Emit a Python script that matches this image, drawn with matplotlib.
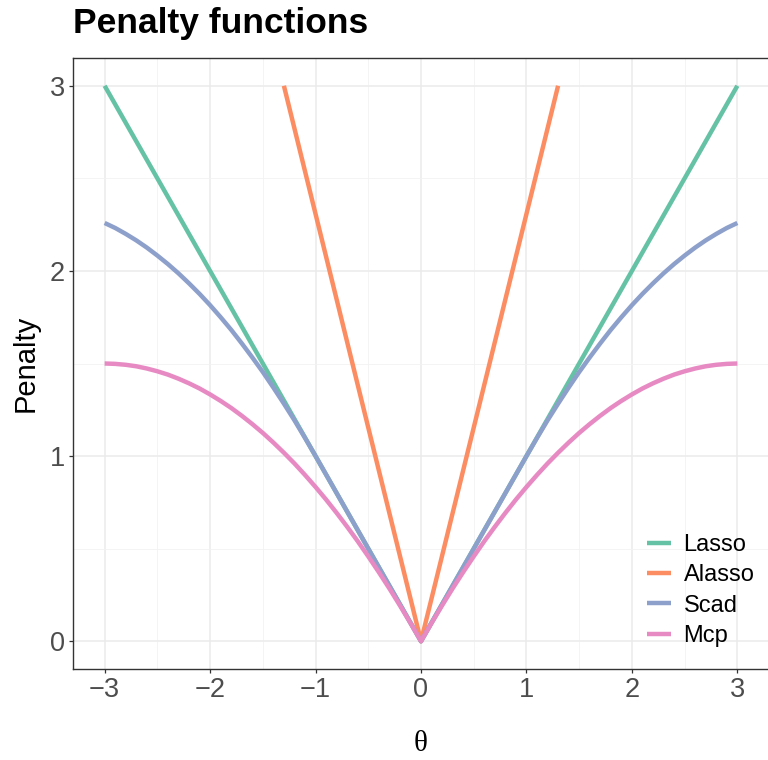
import matplotlib
matplotlib.use("Agg")
import matplotlib.pyplot as plt
from matplotlib.ticker import MultipleLocator

plt.rcParams['font.family'] = ['Liberation Sans', 'DejaVu Sans']

# penalty values, theta grid in steps of 0.1
theta = [-3.0, -2.9, -2.8, -2.7, -2.6, -2.5, -2.4, -2.3, -2.2, -2.1,
         -2.0, -1.9, -1.8, -1.7, -1.6, -1.5, -1.4, -1.3, -1.2, -1.1,
         -1.0, -0.9, -0.8, -0.7, -0.6, -0.5, -0.4, -0.3, -0.2, -0.1,
         0.0,
         0.1, 0.2, 0.3, 0.4, 0.5, 0.6, 0.7, 0.8, 0.9, 1.0,
         1.1, 1.2, 1.3, 1.4, 1.5, 1.6, 1.7, 1.8, 1.9, 2.0,
         2.1, 2.2, 2.3, 2.4, 2.5, 2.6, 2.7, 2.8, 2.9, 3.0]
lasso = [3.0, 2.9, 2.8, 2.7, 2.6, 2.5, 2.4, 2.3, 2.2, 2.1,
         2.0, 1.9, 1.8, 1.7, 1.6, 1.5, 1.4, 1.3, 1.2, 1.1,
         1.0, 0.9, 0.8, 0.7, 0.6, 0.5, 0.4, 0.3, 0.2, 0.1,
         0.0,
         0.1, 0.2, 0.3, 0.4, 0.5, 0.6, 0.7, 0.8, 0.9, 1.0,
         1.1, 1.2, 1.3, 1.4, 1.5, 1.6, 1.7, 1.8, 1.9, 2.0,
         2.1, 2.2, 2.3, 2.4, 2.5, 2.6, 2.7, 2.8, 2.9, 3.0]
scad = [2.259, 2.232, 2.200, 2.165, 2.126, 2.083, 2.037, 1.987, 1.933, 1.876,
        1.815, 1.750, 1.682, 1.609, 1.533, 1.454, 1.370, 1.283, 1.193, 1.098,
        1.0, 0.9, 0.8, 0.7, 0.6, 0.5, 0.4, 0.3, 0.2, 0.1,
        0.0,
        0.1, 0.2, 0.3, 0.4, 0.5, 0.6, 0.7, 0.8, 0.9, 1.0,
        1.098, 1.193, 1.283, 1.370, 1.454, 1.533, 1.609, 1.682, 1.750, 1.815,
        1.876, 1.933, 1.987, 2.037, 2.083, 2.126, 2.165, 2.200, 2.232, 2.259]
mcp = [1.500, 1.498, 1.493, 1.485, 1.473, 1.458, 1.440, 1.418, 1.393, 1.365,
       1.333, 1.298, 1.260, 1.218, 1.173, 1.125, 1.073, 1.018, 0.960, 0.898,
       0.833, 0.765, 0.693, 0.618, 0.540, 0.458, 0.373, 0.285, 0.193, 0.098,
       0.0,
       0.098, 0.193, 0.285, 0.373, 0.458, 0.540, 0.618, 0.693, 0.765, 0.833,
       0.898, 0.960, 1.018, 1.073, 1.125, 1.173, 1.218, 1.260, 1.298, 1.333,
       1.365, 1.393, 1.418, 1.440, 1.458, 1.473, 1.485, 1.493, 1.498, 1.500]
# adaptive lasso only shown up to penalty 3
alasso_theta = [-1.3, 0.0, 1.3]
alasso = [3.0, 0.0, 3.0]

colors = {'Lasso': '#66C2A5', 'Alasso': '#FC8D62', 'Scad': '#8DA0CB', 'Mcp': '#E78AC3'}

fig = plt.figure(figsize=(7.68, 7.6), dpi=100)
ax = fig.add_axes([73/768, 1 - 669/760, 696/768, 611/760])

lw = 3.2
ax.plot(theta, lasso, color=colors['Lasso'], lw=lw, label='Lasso', solid_capstyle='butt')
ax.plot(alasso_theta, alasso, color=colors['Alasso'], lw=lw, label='Alasso', solid_capstyle='butt')
ax.plot(theta, scad, color=colors['Scad'], lw=lw, label='Scad', solid_capstyle='butt')
ax.plot(theta, mcp, color=colors['Mcp'], lw=lw, label='Mcp', solid_capstyle='butt')

ax.set_xlim(-3.3, 3.3)
ax.set_ylim(-0.15, 3.15)
ax.xaxis.set_minor_locator(MultipleLocator(0.5))
ax.yaxis.set_major_locator(MultipleLocator(1))
ax.yaxis.set_minor_locator(MultipleLocator(0.5))
ax.set_xticks([-3, -2, -1, 0, 1, 2, 3])
ax.set_xticklabels(['\u22123', '\u22122', '\u22121', '0', '1', '2', '3'])

ax.grid(which='major', color='#EBEBEB', lw=1.1)
ax.grid(which='minor', color='#F2F2F2', lw=0.6)
ax.set_axisbelow(True)
ax.tick_params(which='minor', length=0)
ax.tick_params(which='major', length=3, width=0.9, color='#333333',
               labelsize=19.5, labelcolor='#4D4D4D', pad=3)
for s in ax.spines.values():
    s.set_color('#333333')
    s.set_linewidth(1.0)

ax.set_ylabel('Penalty', fontsize=21, labelpad=7)
ax.set_xlabel('\u03b8', fontsize=21, family=['Liberation Serif', 'DejaVu Serif'], labelpad=20)

fig.text(73/768, 1 - 33/760, 'Penalty functions', fontsize=25.5, fontweight='bold',
         ha='left', va='baseline')

ax.legend(loc='upper left', bbox_to_anchor=(647/768, 1 - 534/760),
          bbox_transform=fig.transFigure, frameon=False, fontsize=17,
          borderpad=0, borderaxespad=0, handlelength=1.0, handletextpad=0.55,
          labelspacing=0.35)

fig.savefig('out.png', dpi=100)
